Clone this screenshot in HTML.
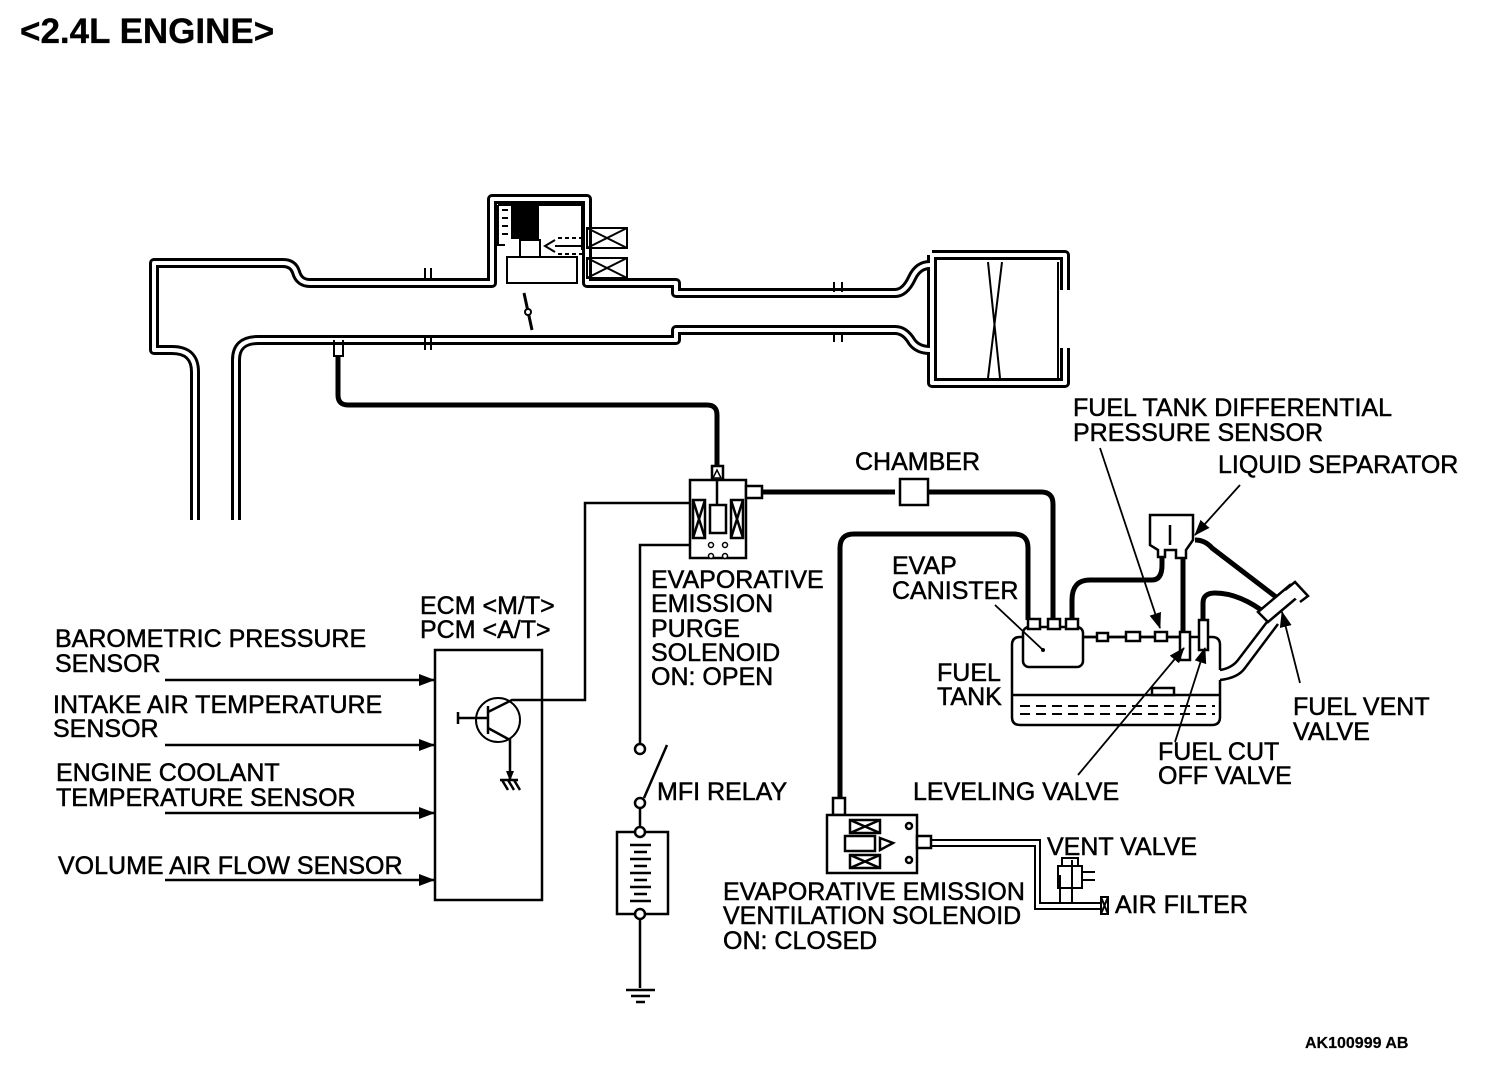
<!DOCTYPE html>
<html><head><meta charset="utf-8">
<style>
html,body{margin:0;padding:0;background:#fff;}
svg{display:block;}
text{font-family:"Liberation Sans",Arial,sans-serif;font-size:25px;fill:#000;stroke:#000;stroke-width:0.5px;}
</style></head><body>
<svg width="1504" height="1082" viewBox="0 0 1504 1082" xmlns="http://www.w3.org/2000/svg">
<defs>
<marker id="ah" markerWidth="10" markerHeight="8" refX="9" refY="4" orient="auto" markerUnits="userSpaceOnUse">
<path d="M0,0 L10,4 L0,8 Z" fill="#000"/></marker>
<marker id="ah2" markerWidth="16" markerHeight="12" refX="15" refY="6" orient="auto" markerUnits="userSpaceOnUse">
<path d="M0,0 L16,6 L0,12 Z" fill="#000"/></marker>
</defs>
<rect width="1504" height="1082" fill="#fff"/>
<text x="20" y="43" style="font-size:35px;font-weight:bold;stroke-width:0.3px">&lt;2.4L ENGINE&gt;</text>

<!-- Intake duct double walls -->
<g fill="none" stroke-linejoin="round">
<g stroke="#000" stroke-width="10">
<path d="M195 520 V372 Q195 350 172 350 H154 V263 H283 Q293 263 296 272 Q299 283 310 283 H492 V199 H587 V283 H676 V293 H895 Q905 293 912 278 Q918 265 930 265"/>
<path d="M236 520 V360 Q236 340 258 340 H676 V330 H895 Q905 330 912 342 Q918 350 930 350"/>
<path d="M932 255 H1065 V290 M932 255 V383 H1065 V348"/>
</g>
<g stroke="#fff" stroke-width="4">
<path d="M195 520 V372 Q195 350 172 350 H154 V263 H283 Q293 263 296 272 Q299 283 310 283 H492 V199 H587 V283 H676 V293 H895 Q905 293 912 278 Q918 265 930 265"/>
<path d="M236 520 V360 Q236 340 258 340 H676 V330 H895 Q905 330 912 342 Q918 350 930 350"/>
<path d="M932 255 H1065 V290 M932 255 V383 H1065 V348"/>
</g>
</g>
<!-- notches -->
<g stroke="#000" stroke-width="2" fill="none">
<path d="M425 268 V280 M431 268 V280 M425 336 V350 M431 336 V350"/>
<path d="M834 282 V292 M842 282 V292 M834 332 V342 M842 332 V342"/>
<path d="M936 262 V378 M1058 262 V378"/>
<path d="M988 262 L1000 378 M1002 262 L988 378"/>
<path d="M498 205 H582 V250 M498 205 V245 H505"/>
<rect x="507" y="257" width="70" height="26" fill="#fff"/>
<path d="M520 257 V240 H540 V257"/>
<path d="M522 208 V240"/>
<rect x="512" y="206" width="26" height="32" fill="#000"/>
<path d="M502 210 H508 M502 218 H508 M502 226 H508 M502 234 H508"/>
<path d="M524 293 L532 330" stroke-width="3"/>
<circle cx="528" cy="312" r="3" fill="#fff"/>
<rect x="587" y="228" width="40" height="20"/><path d="M587 228 L627 248 M627 228 L587 248"/>
<rect x="587" y="258" width="40" height="20"/><path d="M587 258 L627 278 M627 258 L587 278"/>
<path d="M555 246 H585 M555 240 L545 246 L555 252" />
<path d="M558 238 H585 M558 254 H585" stroke-dasharray="4,3"/>
<path d="M334 340 V356 H343 V340"/>
</g>
<path d="M338 356 V395 Q338 405 348 405 H707 Q717 405 717 415 V466" fill="none" stroke="#000" stroke-width="5"/>

<!-- Purge solenoid -->
<g stroke="#000" stroke-width="2.5" fill="#fff">
<rect x="712" y="466" width="11" height="14"/>
<rect x="690" y="480" width="56" height="78"/>
<rect x="746" y="486" width="16" height="12"/>
<rect x="693" y="500" width="12" height="38"/><path d="M693 500 L705 538 M705 500 L693 538" fill="none"/>
<rect x="731" y="500" width="12" height="38"/><path d="M731 500 L743 538 M743 500 L731 538" fill="none"/>
<rect x="710" y="505" width="16" height="28"/>
<path d="M717 480 V505" fill="none"/>
</g>
<path d="M713 478 L717 470 L721 478 Z" fill="#fff" stroke="#000" stroke-width="1.5"/>
<g fill="#fff" stroke="#000" stroke-width="1.5"><circle cx="711" cy="545" r="2.5"/><circle cx="725" cy="545" r="2.5"/><circle cx="711" cy="556" r="2.5"/><circle cx="725" cy="556" r="2.5"/></g>
<path d="M762 492 H895" stroke="#000" stroke-width="5"/>
<rect x="900" y="479" width="28" height="26" fill="#fff" stroke="#000" stroke-width="2.5"/>
<path d="M928 492 H1041 Q1053 492 1053 504 V620" fill="none" stroke="#000" stroke-width="5"/>

<!-- ECM -->
<rect x="435" y="650" width="107" height="250" fill="none" stroke="#000" stroke-width="2.5"/>
<circle cx="498" cy="720" r="22" fill="none" stroke="#000" stroke-width="2"/>
<g stroke="#000" stroke-width="2.5" fill="none">
<path d="M458 718 H488 M458 712 V724 M488 706 V734 M488 712 L512 700 H585 V503 H690"/>
<path d="M488 728 L510 740 V780" marker-end="url(#ah)"/>
<path d="M500 780 H518 M502 780 L508 790 M508 780 L514 790 M514 780 L520 790"/>
<path d="M165 680 H434" marker-end="url(#ah2)"/>
<path d="M165 745 H434" marker-end="url(#ah2)"/>
<path d="M165 813 H434" marker-end="url(#ah2)"/>
<path d="M165 880 H434" marker-end="url(#ah2)"/>
<path d="M690 545 H640 V744"/>
<path d="M644 798 L667 745"/>
<path d="M640 808 V826 M640 918 V988"/>
<rect x="617" y="832" width="51" height="82"/>
<path d="M626 990 H655 M631 996 H650 M636 1002 H645"/>
</g>
<g fill="#fff" stroke="#000" stroke-width="2.5">
<circle cx="640" cy="749" r="5"/><circle cx="640" cy="803" r="5"/><circle cx="640" cy="832" r="5"/><circle cx="640" cy="914" r="5"/>
</g>
<g stroke="#000" stroke-width="2.5">
<path d="M630 845 H651 M634 852 H647 M630 859 H651 M634 866 H647 M630 873 H651 M634 880 H647 M630 887 H651 M634 894 H647 M630 901 H651"/>
</g>

<path d="M840 800 V548 Q840 534 854 534 H1014 Q1028 534 1028 548 V620" fill="none" stroke="#000" stroke-width="5"/>

<!-- Tank -->
<g stroke="#000" stroke-width="2.5" fill="none">
<path d="M1012 645 Q1012 637 1020 637 H1212 Q1220 637 1220 645 V670 M1220 680 V717 Q1220 725 1212 725 H1020 Q1012 725 1012 717 V645"/>
<path d="M1012 695 H1220"/>
<path d="M1020 706 H1215 M1020 714 H1215" stroke-dasharray="10,6" stroke-width="2"/>
<rect x="1152" y="688" width="22" height="7" fill="#fff"/>
<rect x="1023" y="627" width="60" height="40" rx="6" fill="#fff"/>
<rect x="1028" y="619" width="12" height="10" fill="#fff"/>
<rect x="1048" y="619" width="12" height="10" fill="#fff"/>
<rect x="1066" y="619" width="12" height="10" fill="#fff"/>
<path d="M1083 637 H1180"/>
<rect x="1097" y="633" width="11" height="8" fill="#fff"/>
<rect x="1126" y="632" width="14" height="9" fill="#fff"/>
<rect x="1155" y="632" width="12" height="9" fill="#fff"/>
<rect x="1180" y="632" width="10" height="28" fill="#fff"/>
<rect x="1199" y="620" width="9" height="30" fill="#fff"/>
<path d="M1150 515 H1193 V540 L1186 550 V558 H1176 V550 H1165 V557 H1158 V550 L1150 545 Z" fill="#fff"/>
<path d="M1170 525 V545"/>
</g>
<path d="M1072 620 V600 Q1072 580 1090 580 H1152 Q1162 580 1162 565 V557" fill="none" stroke="#000" stroke-width="5"/>
<path d="M1183 558 V632" stroke="#000" stroke-width="5"/>
<path d="M1203 620 V603 Q1203 593 1215 593 Q1240 593 1268 615" fill="none" stroke="#000" stroke-width="5"/>
<path d="M1195 540 Q1205 540 1212 548 L1280 600" fill="none" stroke="#000" stroke-width="5"/>
<g stroke="#000" stroke-width="2.5" fill="#fff">
<path d="M1220 670 Q1232 668 1238 660 L1270 618 M1220 680 Q1238 678 1245 668 L1278 624" fill="none"/>
<path d="M1258 612 L1290 585 L1300 595 L1268 622 Z"/>
<path d="M1285 590 L1295 582 L1308 596 L1300 602"/>
</g>
<g stroke="#000" stroke-width="1.8" fill="none">
<path d="M1100 448 L1160 628" marker-end="url(#ah2)"/>
<path d="M1240 485 L1195 535" marker-end="url(#ah2)"/>
<path d="M1300 683 L1282 612" marker-end="url(#ah2)"/>
<path d="M1078 775 L1184 648" marker-end="url(#ah2)"/>
<path d="M1175 742 L1205 648" marker-end="url(#ah2)"/>
<path d="M995 605 L1043 650"/>
</g>
<circle cx="1043" cy="650" r="2" fill="#000"/>

<!-- ventilation solenoid -->
<g stroke="#000" stroke-width="2.5" fill="#fff">
<rect x="833" y="798" width="12" height="17"/>
<rect x="827" y="815" width="90" height="58"/>
<rect x="917" y="836" width="14" height="12"/>
<rect x="850" y="820" width="30" height="13"/><path d="M850 820 L880 833 M880 820 L850 833" fill="none"/>
<rect x="850" y="855" width="30" height="13"/><path d="M850 855 L880 868 M880 855 L850 868" fill="none"/>
<rect x="845" y="836" width="30" height="15"/>
<path d="M880 838 L893 843 L880 850 Z"/>
<circle cx="909" cy="826" r="3"/><circle cx="909" cy="860" r="3"/>
</g>
<g stroke="#000" stroke-width="2" fill="none">
<path d="M931 840 H1040 V903 H1102 M931 846 H1035 V909 H1102"/>
<path d="M1060 875 V903 M1072 860 V903"/>
<rect x="1058" y="866" width="24" height="22"/>
<path d="M1062 866 V858 H1078 V866 M1082 872 H1095 M1082 880 H1095"/>
<rect x="1101" y="897" width="7" height="17"/>
<path d="M1101 897 L1108 914 M1108 897 L1101 914"/>
</g>

<text x="55" y="647">BAROMETRIC PRESSURE</text>
<text x="55" y="672">SENSOR</text>
<text x="53" y="713">INTAKE AIR TEMPERATURE</text>
<text x="53" y="737">SENSOR</text>
<text x="56" y="781">ENGINE COOLANT</text>
<text x="56" y="806">TEMPERATURE SENSOR</text>
<text x="58" y="874">VOLUME AIR FLOW SENSOR</text>
<text x="420" y="614">ECM &lt;M/T&gt;</text>
<text x="420" y="638">PCM &lt;A/T&gt;</text>
<text x="651" y="588">EVAPORATIVE</text>
<text x="651" y="612">EMISSION</text>
<text x="651" y="637">PURGE</text>
<text x="651" y="661">SOLENOID</text>
<text x="651" y="685">ON: OPEN</text>
<text x="657" y="800">MFI RELAY</text>
<text x="855" y="470">CHAMBER</text>
<text x="1073" y="416">FUEL TANK DIFFERENTIAL</text>
<text x="1073" y="441">PRESSURE SENSOR</text>
<text x="1218" y="473">LIQUID SEPARATOR</text>
<text x="892" y="574">EVAP</text>
<text x="892" y="599">CANISTER</text>
<text x="937" y="681">FUEL</text>
<text x="937" y="705">TANK</text>
<text x="1293" y="715">FUEL VENT</text>
<text x="1293" y="740">VALVE</text>
<text x="1158" y="760">FUEL CUT</text>
<text x="1158" y="784">OFF VALVE</text>
<text x="913" y="800">LEVELING VALVE</text>
<text x="1047" y="855">VENT VALVE</text>
<text x="1115" y="913">AIR FILTER</text>
<text x="723" y="900">EVAPORATIVE EMISSION</text>
<text x="723" y="924">VENTILATION SOLENOID</text>
<text x="723" y="949">ON: CLOSED</text>
<text x="1305" y="1048" style="font-size:16px;font-weight:bold;stroke-width:0.2px">AK100999 AB</text>
</svg>
</body></html>
